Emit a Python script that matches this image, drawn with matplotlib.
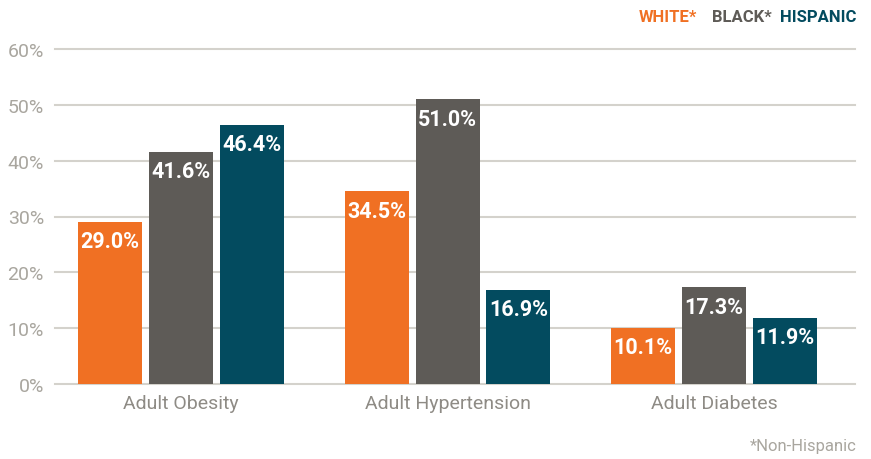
import matplotlib
matplotlib.use("Agg")
import matplotlib.pyplot as plt
import numpy as np

categories = ["Adult Obesity", "Adult Hypertension", "Adult Diabetes"]
series_names = ["WHITE*", "BLACK*", "HISPANIC"]
white = [29.0, 34.5, 10.1]
black = [41.6, 51.0, 17.3]
hispanic = [46.4, 16.9, 11.9]
y_ticks = [0, 10, 20, 30, 40, 50, 60]
footnote = "*Non-Hispanic"

colors = ["#F07023", "#5E5B57", "#034B5F"]
tick_color = "#A9A69F"
grid_color = "#D4D2CC"

plt.rcParams["font.family"] = ["Roboto", "DejaVu Sans"]

fig = plt.figure(figsize=(8.71, 4.6), dpi=100)
ax = fig.add_axes([55 / 871, 75 / 460, 800 / 871, 335 / 460])

x = np.arange(len(categories))
width = 0.24
step = 0.266
for i, (vals, c) in enumerate(zip([white, black, hispanic], colors)):
    xs = x + (i - 1) * step
    ax.bar(xs, vals, width=width, color=c, zorder=3)
    for xi, v in zip(xs, vals):
        ax.annotate(f"{v:.1f}%", (xi, v), xytext=(0, -6), textcoords="offset points",
                    ha="center", va="top", color="white", fontsize=15.5,
                    fontweight="bold", zorder=4)

ax.set_xlim(-0.472, 2.528)
ax.set_ylim(0, 60)
ax.set_yticks(y_ticks)
ax.set_yticklabels([f"{t}%" for t in y_ticks])
ax.yaxis.grid(True, color=grid_color, linewidth=1.5, zorder=0)
for gl in ax.yaxis.get_gridlines():
    gl.set_clip_on(False)
ax.set_xticks(x)
ax.set_xticklabels(categories)
ax.tick_params(axis="y", length=0, pad=8, labelsize=14, labelcolor=tick_color)
ax.tick_params(axis="x", length=0, pad=7, labelsize=14, labelcolor="#8E8B85")
for s in ax.spines.values():
    s.set_visible(False)

# legend as colored words along the top right
fig.text(697 / 871, 1 - 17 / 460, series_names[0], color=colors[0], ha="right",
         va="center", fontsize=12, fontweight="bold")
fig.text(772 / 871, 1 - 17 / 460, series_names[1], color=colors[1], ha="right",
         va="center", fontsize=12, fontweight="bold")
fig.text(856 / 871, 1 - 17 / 460, series_names[2], color=colors[2], ha="right",
         va="center", fontsize=12, fontweight="bold")

fig.text(857 / 871, 1 - 447 / 460, footnote, color=tick_color, ha="right",
         va="center", fontsize=12)

fig.savefig("out.png", dpi=100)
